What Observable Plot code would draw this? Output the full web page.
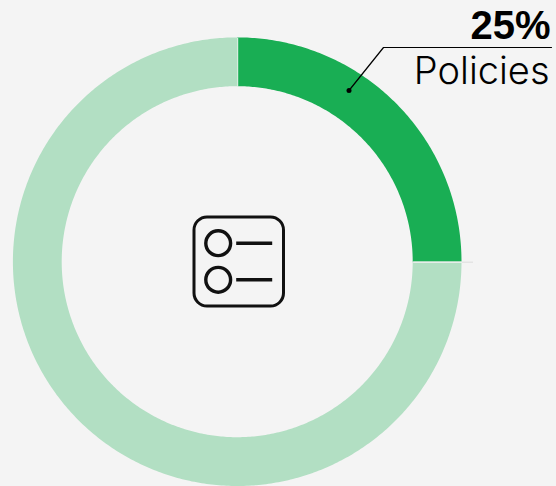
<!DOCTYPE html>
<html>
<head>
<meta charset="utf-8">
<script src="https://cdn.jsdelivr.net/npm/d3@7"></script>
<script src="https://cdn.jsdelivr.net/npm/@observablehq/plot@0.6"></script>
<style>
html,body{margin:0;padding:0;background:#f4f4f4;overflow:hidden}
svg{display:block}
</style>
</head>
<body>
<div id="chart"></div>
<script>
const categories = ["Policies", "Other"];
const shares = [25, 75];
const sliceColors = ["#19ae54", "#b2dfc3"];

const W = 556, H = 486, cx = 237.2, cy = 261.7;
const outer = 224.3, inner = 175.5;

const pie = d3.pie().sort(null).value(d => d.share)(
  categories.map((category, i) => ({category, share: shares[i]}))
);
const ring = pie.flatMap(s => {
  const n = Math.ceil((s.endAngle - s.startAngle) * 90);
  return d3.range(n + 1).map(i => ({
    category: s.data.category,
    angle: s.startAngle + (s.endAngle - s.startAngle) * i / n
  }));
});
const px = (a, r) => r * Math.sin(a);
const py = (a, r) => -r * Math.cos(a);

const icon = [
  {x: 217.7, y: 242.7, x1: 235.7, x2: 271.7},
  {x: 217.7, y: 279.3, x1: 235.7, x2: 271.7}
].map(d => ({x: d.x - cx, y: d.y - cy, x1: d.x1 - cx, x2: d.x2 - cx}));

const leader = [
  {x: 348.5 - cx, y: 90 - cy},
  {x: 383 - cx, y: 47 - cy},
  {x: 551 - cx, y: 47 - cy}
];

const chart = Plot.plot({
  width: W, height: H,
  margin: 0,
  style: {background: "#f4f4f4", overflow: "visible"},
  x: {domain: [-cx, W - cx], range: [0, W], axis: null},
  y: {domain: [-cy, H - cy], range: [0, H], axis: null},
  color: {domain: categories, range: sliceColors},
  marks: [
    Plot.area(ring, {
      x1: d => px(d.angle, inner), y1: d => py(d.angle, inner),
      x2: d => px(d.angle, outer), y2: d => py(d.angle, outer),
      z: "category", fill: "category"
    }),
    Plot.link([pie[1]], {
      x1: d => px(d.startAngle, inner), y1: d => py(d.startAngle, inner),
      x2: d => px(d.startAngle, outer + 11), y2: d => py(d.startAngle, outer + 11),
      stroke: "#dcdcdc", strokeWidth: 1
    }),
    Plot.link(pie, {
      x1: d => px(d.startAngle, inner), y1: d => py(d.startAngle, inner),
      x2: d => px(d.startAngle, outer), y2: d => py(d.startAngle, outer),
      stroke: "#f4f4f4", strokeWidth: 1
    }),
    Plot.line(leader, {x: "x", y: "y", stroke: "#000", strokeWidth: 1.2}),
    Plot.dot(leader.slice(0, 1), {x: "x", y: "y", r: 2.5, fill: "#000"}),
    Plot.text([`${shares[0]}%`], {
      x: () => leader[2].x - 1, y: () => leader[2].y - 9,
      text: d => d, textAnchor: "end", lineAnchor: "bottom",
      fontFamily: "Liberation Sans", fontWeight: 700, fontSize: 40, fill: "#000"
    }),
    Plot.text([categories[0]], {
      x: () => leader[2].x - 2, y: () => leader[2].y + 10,
      text: d => d, textAnchor: "end", lineAnchor: "top",
      fontFamily: "Inter", fontWeight: 300, fontSize: 38, fill: "#000"
    }),
    Plot.rect([{x1: 194 - cx, x2: 283.5 - cx, y1: 217 - cy, y2: 306 - cy}], {
      x1: "x1", x2: "x2", y1: "y1", y2: "y2", rx: 13,
      fill: "none", stroke: "#111", strokeWidth: 3
    }),
    Plot.dot(icon, {x: "x", y: "y", r: 12.4, fill: "none", stroke: "#111", strokeWidth: 3.4}),
    Plot.link(icon, {x1: "x1", x2: "x2", y1: "y", y2: "y", stroke: "#111", strokeWidth: 3.4})
  ]
});
document.getElementById("chart").append(chart);
</script>
</body>
</html>
